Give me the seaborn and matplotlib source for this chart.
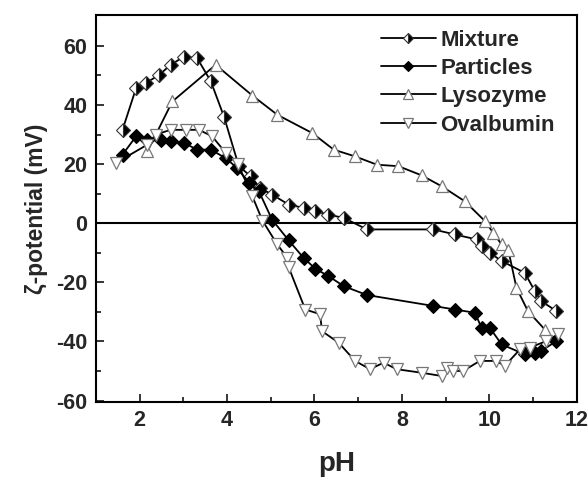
import matplotlib
matplotlib.use("Agg")
import matplotlib.pyplot as plt
import seaborn as sns

mix_ph = [1.61, 1.92, 2.14, 2.45, 2.71, 3.02, 3.32, 3.63, 3.93, 4.27, 4.54, 4.75, 5.03, 5.41, 5.75,
          6.02, 6.32, 6.67, 7.20, 8.72, 9.21, 9.71, 9.82, 10.01, 10.28, 10.81, 11.04, 11.19, 11.53]
mix_zeta = [31.6, 45.7, 47.4, 50.2, 53.6, 56.4, 55.8, 48.0, 36.1, 19.3, 15.9, 12.0, 9.7, 6.3, 5.2,
            4.1, 2.9, 1.8, -2.1, -2.1, -3.8, -5.5, -7.8, -10.0, -12.8, -16.8, -23.0, -26.4, -29.7]

par_ph = [1.61, 1.92, 2.18, 2.49, 2.71, 3.02, 3.32, 3.63, 3.97, 4.23, 4.50, 4.73, 5.03, 5.41, 5.75,
          6.02, 6.32, 6.67, 7.20, 8.72, 9.21, 9.67, 9.82, 10.01, 10.28, 10.81, 11.04, 11.19, 11.53]
par_zeta = [23.2, 29.4, 28.3, 28.3, 27.7, 27.1, 24.9, 24.9, 22.0, 18.7, 13.6, 10.8, 1.2, -5.8, -11.7,
            -15.4, -17.9, -21.3, -24.3, -28.0, -29.2, -30.3, -35.4, -35.4, -41.0, -44.4, -43.8, -43.2, -39.9]

lys_ph = [2.18, 2.75, 3.74, 4.58, 5.15, 5.95, 6.44, 6.93, 7.43, 7.92, 8.45, 8.91, 9.44, 9.90,
          10.09, 10.28, 10.43, 10.62, 10.88, 11.27]
lys_zeta = [24.3, 41.2, 53.6, 43.2, 36.7, 30.5, 24.9, 22.6, 19.8, 19.3, 16.2, 12.5, 7.4, 0.7,
            -3.3, -7.2, -8.9, -21.9, -29.7, -36.0]

ova_ph = [1.46, 2.18, 2.37, 2.71, 3.06, 3.36, 3.66, 3.97, 4.25, 4.58, 4.81, 5.15, 5.38, 5.41, 5.79,
          6.13, 6.17, 6.55, 6.93, 7.27, 7.58, 7.88, 8.45, 8.91, 9.02, 9.17, 9.40, 9.78, 10.16, 10.35,
          10.70, 10.92, 11.30, 11.57]
ova_zeta = [20.4, 26.6, 30.0, 31.6, 31.6, 31.6, 29.4, 23.8, 20.0, 9.1, 0.9, -7.2, -11.7, -14.9, -29.2,
            -30.8, -36.5, -40.4, -46.6, -49.4, -47.2, -49.4, -50.6, -51.7, -48.9, -50.0, -50.0, -46.6, -46.6, -48.3,
            -42.7, -42.1, -39.9, -37.6]

labels = ["Mixture", "Particles", "Lysozyme", "Ovalbumin"]
x_ticks = [2, 4, 6, 8, 10, 12]
y_ticks = [-60, -40, -20, 0, 20, 40, 60]

sns.set_style("ticks")
plt.rcParams['font.family'] = ['Liberation Sans', 'DejaVu Sans']
plt.rcParams['font.weight'] = 'bold'
plt.rcParams['axes.unicode_minus'] = False

fig = plt.figure(figsize=(5.88, 4.8), dpi=100)
ax = fig.add_axes([0.163, 0.1625, 0.818, 0.8065])

ax.axhline(0, color='black', lw=1.5, zorder=1)

common = dict(ax=ax, estimator=None, sort=False, color='black', lw=1.3, zorder=3)
sns.lineplot(x=mix_ph, y=mix_zeta, marker='D', markersize=7, fillstyle='right',
             markerfacecolor='black', markerfacecoloralt='white', markeredgecolor='#333333',
             markeredgewidth=0.8, label=labels[0], **common)
sns.lineplot(x=par_ph, y=par_zeta, marker='D', markersize=7, markerfacecolor='black',
             markeredgecolor='black', markeredgewidth=0.8, label=labels[1], **common)
sns.lineplot(x=lys_ph, y=lys_zeta, marker='^', markersize=9, markerfacecolor='white',
             markeredgecolor='#777777', markeredgewidth=0.9, label=labels[2], **common)
sns.lineplot(x=ova_ph, y=ova_zeta, marker='v', markersize=9, markerfacecolor='white',
             markeredgecolor='#777777', markeredgewidth=0.9, label=labels[3], **common)

ax.set_xlim(1.0, 12.0)
ax.set_ylim(-60.5, 70.5)
ax.set_xticks(x_ticks)
ax.set_yticks(y_ticks)
ax.set_xticks([3, 5, 7, 9, 11], minor=True)
ax.set_yticks([-50, -30, -10, 10, 30, 50], minor=True)
ax.tick_params(which='both', direction='in', width=1.3, labelsize=15.5, top=False, right=False)
ax.tick_params(which='major', length=6, pad=6)
ax.tick_params(which='minor', length=3.5)
for lab in ax.get_xticklabels() + ax.get_yticklabels():
    lab.set_fontweight('bold')
for s in ax.spines.values():
    s.set_linewidth(1.5)
    s.set_visible(True)
    s.set_color('black')

ax.set_xlabel("pH", fontsize=20, fontweight='bold', labelpad=14)
ax.set_ylabel("ζ-potential (mV)", fontsize=16.5, fontweight='bold', labelpad=6)

leg = ax.legend(loc='upper left', bbox_to_anchor=(0.592, 0.962), frameon=False,
                prop={'weight': 'bold', 'size': 16}, handlelength=2.5, handletextpad=0.2,
                labelspacing=0.33, borderaxespad=0.0, borderpad=0.0, markerscale=0.75)

fig.savefig("out.png", dpi=100)
